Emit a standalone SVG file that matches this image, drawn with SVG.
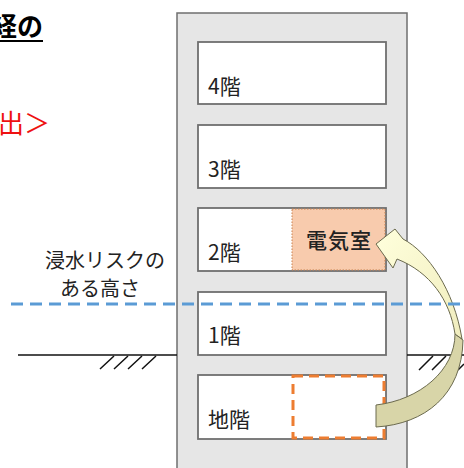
<svg xmlns="http://www.w3.org/2000/svg" width="464" height="468" viewBox="0 0 464 468">
<defs>
<style>
.bld{fill:#e6e6e6;stroke:#6f6f6f;stroke-width:1.5}
.fl{fill:#ffffff;stroke:#6f6f6f;stroke-width:1.8}
.lbl{font-family:"Noto Sans CJK JP","Noto Sans",sans-serif;font-size:20px;fill:#222}
.gnd{stroke:#111;stroke-width:1.5;fill:none}
.arr{stroke:#6b6a4e;stroke-width:1}
</style>
<linearGradient id="lg" x1="0" y1="0" x2="1" y2="1">
<stop offset="0" stop-color="#ffffdc"/>
<stop offset="1" stop-color="#f0edbe"/>
</linearGradient>
</defs>
<rect width="464" height="468" fill="#ffffff"/>
<g id="title">
<text x="43" y="36" text-anchor="end" style="font-family:'Noto Sans CJK JP',sans-serif;font-size:26px;font-weight:bold;fill:#000">経の</text>
<line x1="0" y1="41" x2="43" y2="41" stroke="#000" stroke-width="2"/>
</g>
<g id="subtitle">
<text x="50" y="133" text-anchor="end" style="font-family:'Noto Sans CJK JP',sans-serif;font-size:26px;fill:#ee1111">出＞</text>
</g>
<g id="building">
<rect class="bld" x="177" y="13" width="230" height="470"/>
</g>
<g id="floor4"><rect class="fl" x="198" y="42" width="188" height="62"/><text class="lbl" x="208" y="94" style="font-size:21px">4階</text></g>
<g id="floor3"><rect class="fl" x="198" y="125" width="188" height="63"/><text class="lbl" x="208" y="177" style="font-size:21px">3階</text></g>
<g id="floor2"><rect class="fl" x="198" y="208" width="188" height="63"/><text class="lbl" x="208" y="260" style="font-size:21px">2階</text></g>
<g id="elec">
<rect x="292" y="209" width="93" height="61" fill="#f8cbad" stroke="#c8804f" stroke-width="1" stroke-dasharray="1.5 1.5"/>
<text x="339" y="248" text-anchor="middle" style="font-family:'Noto Sans CJK JP',sans-serif;font-size:21px;font-weight:500;fill:#222;letter-spacing:1px">電気室</text>
</g>
<g id="floor1"><rect class="fl" x="198" y="292" width="188" height="63"/><text class="lbl" x="208" y="343" style="font-size:21px">1階</text></g>
<g id="basement"><rect class="fl" x="198" y="375" width="188" height="64"/><text class="lbl" x="208" y="427" style="font-size:21px">地階</text>
<rect x="293" y="376" width="91" height="62" fill="none" stroke="#ed7d31" stroke-width="3" stroke-dasharray="10 6"/>
</g>
<g id="ground">
<line class="gnd" x1="18" y1="355" x2="177" y2="355"/>
<line class="gnd" x1="407" y1="355" x2="464" y2="355"/>
<path class="gnd" d="M100,369 L114,356 M114,369 L128,356 M128,369 L142,356 M142,369 L156,356 M419,370 L433,356 M432,370 L446,356 M445,370 L459,356 M458,370 L464,364"/>
</g>
<g id="connectors">
<path class="arr" fill="#d8d5a8" d="M455,334 C455,370 420,400 376,405 L376,427 C425,424 462,395 463,340 Z"/>
<path class="arr" fill="url(#lg)" d="M376,244 L395,229 L403,239 C428,252 454,290 462,339 L455,334 C450,300 430,272 397,259 L393,268 Z"/>
</g>
<g id="flood-line">
<line x1="11" y1="304" x2="464" y2="304" stroke="#5b9bd5" stroke-width="3" stroke-dasharray="12 7"/>
<text class="lbl" x="105" y="268" text-anchor="middle">浸水リスクの</text>
<text class="lbl" x="100" y="296" text-anchor="middle">ある高さ</text>
</g>
</svg>
